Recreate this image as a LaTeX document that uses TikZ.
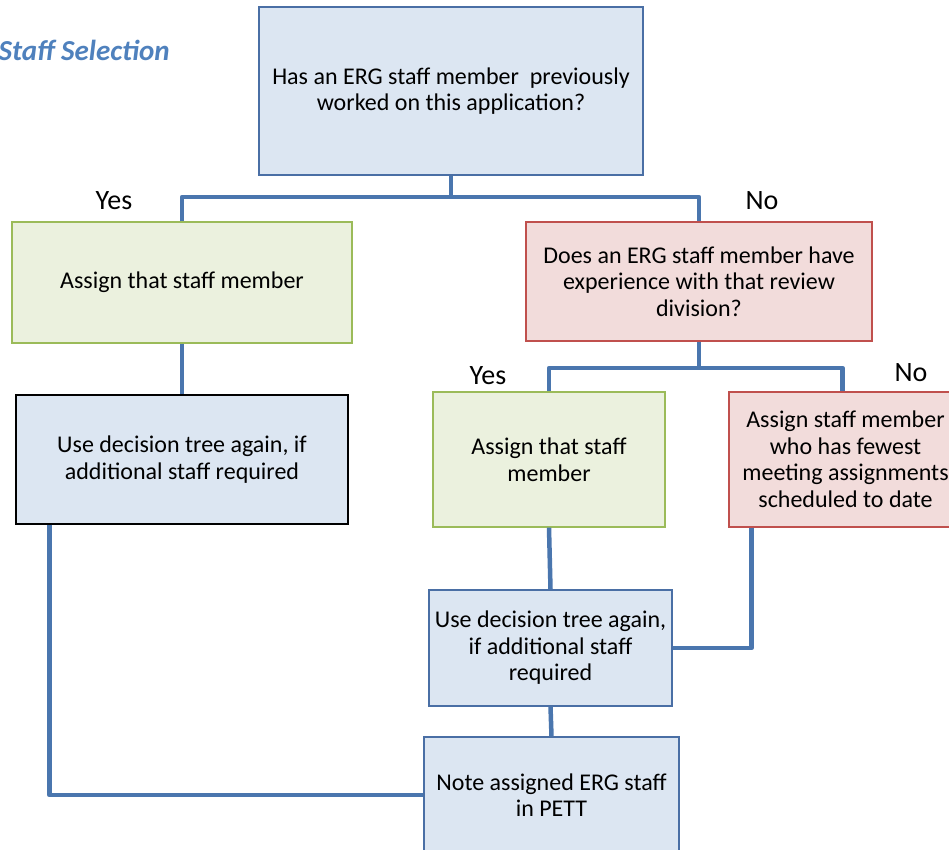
\documentclass[tikz,border=0pt]{standalone}
\usepackage{fontspec}
\setmainfont{Carlito}
\definecolor{bfill}{HTML}{DCE6F2}
\definecolor{bline}{HTML}{4A6FA5}
\definecolor{gfill}{HTML}{EBF1DE}
\definecolor{gline}{HTML}{9BBB59}
\definecolor{rfill}{HTML}{F2DCDB}
\definecolor{rline}{HTML}{C0504D}
\definecolor{conn}{HTML}{4A76AE}
\definecolor{ttl}{HTML}{4F81BD}
\tikzset{
  box/.style={rectangle, line width=1.3pt, align=center, inner sep=0pt,
    font=\fontsize{24}{26.5}\selectfont},
  bluebox/.style={box, fill=bfill, draw=bline},
  blackbox/.style={box, fill=bfill, draw=black},
  greenbox/.style={box, fill=gfill, draw=gline},
  redbox/.style={box, fill=rfill, draw=rline},
  conline/.style={draw=conn, line width=4.5pt, line join=round},
  lbl/.style={font=\fontsize{28}{30}\selectfont, inner sep=0pt}
}
\begin{document}
\begin{tikzpicture}[x=1pt, y=-1pt]
\useasboundingbox (0,0) rectangle (949,850);
\fill[white] (0,0) rectangle (949,850);

\node[anchor=east, inner sep=0pt, text=ttl, font=\fontsize{29}{32}\selectfont\bfseries\itshape] (title) at (170,50) {Staff Selection};

\coordinate (j1) at (451,197);
\coordinate (j2) at (699,368);

\node[bluebox, minimum width=384pt, minimum height=168pt] (q1) at (451,91)
  {Has an ERG staff member\ \ previously\\worked on this application?};
\node[greenbox, minimum width=340pt, minimum height=121pt] (a1) at (182,282.5)
  {Assign that staff member};
\node[blackbox, minimum width=332pt, minimum height=129pt] (u1) at (182,459.5)
  {Use decision tree again, if\\additional staff required};
\node[redbox, minimum width=346pt, minimum height=119pt] (q2) at (699,281.5)
  {Does an ERG staff member have\\experience with that review\\division?};
\node[greenbox, minimum width=232pt, minimum height=135pt] (a2) at (549,459.5)
  {Assign that staff\\member};
\node[redbox, minimum width=233pt, minimum height=135pt] (r2) at (845.5,459.5)
  {Assign staff member\\who has fewest\\meeting assignments\\scheduled to date};
\node[bluebox, minimum width=243pt, minimum height=116pt] (u3) at (550.5,648)
  {Use decision tree again,\\if additional staff\\required};
\node[bluebox, minimum width=255pt, minimum height=116pt] (note) at (551.5,795)
  {Note assigned ERG staff\\in PETT};

\draw[conline] (q1.south) -- (j1);
\draw[conline] (a1.north) |- (j1) -| (q2.north);
\draw[conline] (a1.south) -- (u1.north);
\draw[conline] ([xshift=34pt]u1.south west) |- (note.west);
\draw[conline] (q2.south) -- (j2);
\draw[conline] (a2.north) |- (j2) -| ([xshift=-3pt]r2.north);
\draw[conline] (a2.south) -- (u3.north);
\draw[conline] ([xshift=23pt]r2.south west) |- (u3.east);
\draw[conline] (u3.south) -- (note.north);

\node[lbl] (y1) at (114,201) {Yes};
\node[lbl] (n1) at (762,201) {No};
\node[lbl] (y2) at (488,376) {Yes};
\node[lbl] (n2) at (911,373) {No};
\end{tikzpicture}
\end{document}
